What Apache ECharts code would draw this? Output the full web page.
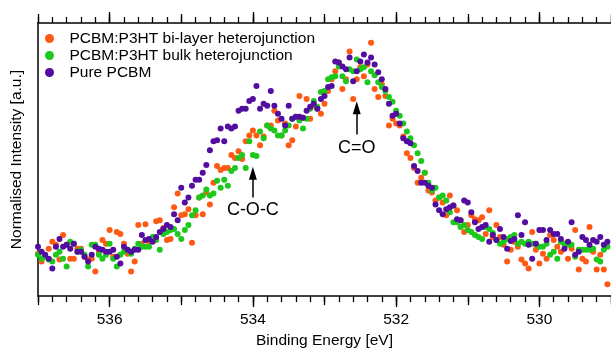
<!DOCTYPE html>
<html>
<head>
<meta charset="utf-8">
<script src="https://cdn.jsdelivr.net/npm/echarts@6/dist/echarts.min.js"></script>
<style>
  html, body { margin: 0; padding: 0; background: #fff; }
  #chart { width: 611px; height: 354px; }
</style>
</head>
<body>
<div id="chart"></div>
<script>
// binding energy grid (eV), sampled every 0.05 eV from 537 downwards
const energyStart = 537;
const energyStep = 0.05;

// normalised intensity, one value per energy step
const bilayer = [
  0.43,0.35,0.40,0.48,0.55,0.52,0.37,0.62,0.52,0.38,
  0.38,0.48,0.48,0.40,0.37,0.38,0.25,0.45,0.57,0.53,
  0.67,0.40,0.65,0.63,0.53,0.43,0.25,0.35,0.72,0.53,
  0.73,0.55,0.57,0.76,0.77,0.69,0.57,0.58,0.90,1.04,
  0.82,0.83,0.88,0.54,0.82,1.00,0.83,1.05,0.93,1.15,
  1.32,1.28,1.30,1.30,1.43,1.40,1.47,1.39,1.57,1.63,
  1.68,1.63,1.53,1.62,1.73,1.73,1.88,1.78,1.63,1.75,
  1.53,1.58,1.72,2.03,1.81,2.00,1.80,1.93,1.90,1.85,
  1.95,2.08,2.20,2.28,2.37,2.10,2.20,2.48,2.00,2.20,
  2.32,2.23,2.35,2.57,2.10,2.02,2.15,2.03,1.73,1.80,
  1.75,1.73,1.62,1.45,1.40,1.30,1.15,1.20,1.25,1.07,
  1.05,0.97,1.00,0.95,0.82,1.02,0.92,0.87,0.77,0.65,
  0.72,0.82,0.78,0.77,0.80,0.63,0.87,0.60,0.72,0.60,
  0.52,0.35,0.47,0.55,0.50,0.37,0.33,0.28,0.65,0.47,
  0.33,0.43,0.38,0.62,0.57,0.50,0.45,0.53,0.38,0.48,
  0.67,0.27,0.38,0.35,0.70,0.45,0.27,0.42,0.27,0.12
];
const bulk = [
  0.42,0.38,0.40,0.37,0.35,0.42,0.45,0.38,0.30,0.55,
  0.53,0.45,0.47,0.42,0.30,0.52,0.52,0.42,0.38,0.42,
  0.53,0.38,0.30,0.42,0.45,0.47,0.43,0.48,0.53,0.50,
  0.50,0.50,0.60,0.57,0.47,0.63,0.65,0.67,0.68,0.63,
  0.58,0.67,0.72,0.82,0.87,1.00,1.02,1.08,1.02,1.04,
  1.17,1.10,1.18,1.12,1.27,1.30,1.40,1.43,1.30,1.57,
  1.43,1.42,1.67,1.60,1.73,1.70,1.68,1.63,1.63,1.68,
  1.73,1.80,1.82,1.78,1.70,1.80,1.90,1.98,1.92,2.07,
  2.08,2.20,2.22,2.23,2.33,2.23,2.18,2.30,2.28,2.40,
  2.30,2.32,2.17,2.28,2.24,2.17,2.12,2.08,2.02,1.97,
  1.88,1.83,1.75,1.67,1.60,1.53,1.45,1.37,1.25,1.15,
  1.07,1.10,1.00,1.02,0.97,0.85,0.75,0.75,0.70,0.72,
  0.67,0.65,0.62,0.60,0.58,0.70,0.68,0.64,0.57,0.53,
  0.55,0.58,0.60,0.62,0.53,0.55,0.53,0.55,0.53,0.53,
  0.50,0.50,0.53,0.42,0.45,0.38,0.55,0.53,0.52,0.52,
  0.40,0.47,0.47,0.47,0.47,0.48,0.37,0.35,0.47,0.50
];
const purePCBM = [
  0.50,0.45,0.42,0.38,0.28,0.50,0.58,0.50,0.52,0.48,
  0.53,0.45,0.45,0.40,0.35,0.42,0.50,0.48,0.47,0.45,
  0.45,0.47,0.40,0.33,0.50,0.47,0.45,0.47,0.47,0.62,
  0.57,0.58,0.55,0.60,0.65,0.68,0.72,0.70,0.83,0.77,
  1.10,0.95,1.00,1.12,1.18,1.18,1.25,1.33,1.48,1.57,
  1.58,1.70,1.57,1.72,1.70,1.72,1.88,1.90,1.90,1.98,
  2.00,2.13,1.90,1.95,1.93,2.08,1.93,1.85,1.80,1.73,
  1.93,1.80,1.82,1.82,1.81,1.88,1.92,1.95,1.90,2.00,
  2.03,2.12,2.13,2.38,2.37,2.33,2.30,2.42,2.18,2.28,
  2.38,2.45,2.37,2.42,2.35,2.27,2.20,2.10,1.95,1.83,
  1.85,1.75,1.60,1.57,1.55,1.32,1.27,1.15,1.15,1.12,
  1.10,0.93,0.87,0.83,0.88,0.90,0.92,0.78,0.77,0.97,
  0.95,0.85,0.75,0.68,0.70,0.72,0.55,0.62,0.57,0.68,
  0.60,0.48,0.56,0.58,0.82,0.62,0.75,0.52,0.38,0.53,
  0.67,0.67,0.57,0.67,0.63,0.63,0.58,0.48,0.55,0.75,
  0.42,0.45,0.60,0.57,0.52,0.57,0.55,0.60,0.52,0.55
];

const seriesNames = [
  'PCBM:P3HT bi-layer heterojunction',
  'PCBM:P3HT bulk heterojunction',
  'Pure PCBM'
];
const majorTicks = [530, 532, 534, 536];

// peak labels: [energy, intensity of text, arrow bottom, arrow top]
const peakNames = ['C-O-C', 'C=O'];
const peakEnergy = [534.0, 532.55];
const peakTextY = [0.87, 1.50];
const peakArrowFrom = [1.00, 1.64];
const peakArrowTo = [1.245, 1.91];

const chart = echarts.init(document.getElementById('chart'), null, { renderer: 'canvas' });

const energies = bilayer.map((_, i) => +(energyStart - i * energyStep).toFixed(2));
const toPoints = vals => vals.map((v, i) => [energies[i], v]);

const FONT = '"Liberation Sans", Arial, sans-serif';
const black = '#000';

const tickAxis = (position, opts) => Object.assign({
    type: 'value',
    position: position,
    min: 529,
    max: 537,
    inverse: true,
    axisLine: { show: false },
    axisLabel: { show: false },
    splitLine: { show: false },
    axisTick: { show: true, inside: false, lineStyle: { color: black, width: 1.3 } }
}, opts);

const dotSeries = (idx, vals, color) => ({
    name: seriesNames[idx],
    type: 'scatter',
    symbolSize: 6,
    itemStyle: { color: color, opacity: 1 },
    emphasis: { disabled: true },
    data: toPoints(vals)
});

const purple = dotSeries(2, purePCBM, '#520ca0');
purple.markLine = {
    silent: true,
    symbol: ['none', 'triangle'],
    symbolSize: [8, 13],
    label: { show: false },
    itemStyle: { color: black },
    lineStyle: { color: black, width: 1.5, type: 'solid', opacity: 1 },
    emphasis: { disabled: true },
    data: peakEnergy.map((e, i) => [
        { coord: [e, peakArrowFrom[i]] },
        { coord: [e, peakArrowTo[i]] }
    ])
};
purple.markPoint = {
    silent: true,
    symbol: 'circle',
    symbolSize: 0,
    label: {
        show: true,
        position: 'inside',
        formatter: '{b}',
        color: black,
        fontSize: 18,
        fontFamily: FONT
    },
    data: peakEnergy.map((e, i) => ({ name: peakNames[i], coord: [e, peakTextY[i]] }))
};

const option = {
    animation: false,
    backgroundColor: '#fff',
    textStyle: { fontFamily: FONT },
    grid: { left: 38, right: 0, top: 23, bottom: 54, containLabel: false },
    legend: {
        orient: 'vertical',
        left: 45,
        top: 30,
        padding: 0,
        itemGap: 0,
        itemWidth: 30,
        itemHeight: 9,
        icon: 'circle',
        data: seriesNames,
        itemStyle: { opacity: 1 },
        textStyle: { fontFamily: FONT, fontSize: 15.5, color: black, lineHeight: 17 }
    },
    xAxis: [
        tickAxis('bottom', {
            axisLine: { show: true, onZero: false, lineStyle: { color: black, width: 1.5 } },
            axisTick: { show: true, length: 11, customValues: majorTicks, lineStyle: { color: black, width: 1.3 } },
            axisLabel: { show: true, customValues: majorTicks, color: black, fontSize: 15.5, fontFamily: FONT, margin: 16 },
            name: 'Binding Energy [eV]',
            nameLocation: 'middle',
            nameGap: 36,
            nameTextStyle: { color: black, fontSize: 15.5, fontFamily: FONT }
        }),
        tickAxis('bottom', { interval: 1, axisTick: { show: true, length: 9, lineStyle: { color: black, width: 1.3 } } }),
        tickAxis('bottom', { interval: 0.2, axisTick: { show: true, length: 6, lineStyle: { color: black, width: 1.3 } } }),
        tickAxis('top', {
            axisLine: { show: true, onZero: false, lineStyle: { color: black, width: 1.5 } },
            axisTick: { show: true, length: 11, customValues: majorTicks, lineStyle: { color: black, width: 1.3 } }
        }),
        tickAxis('top', { interval: 1, axisTick: { show: true, length: 9, lineStyle: { color: black, width: 1.3 } } }),
        tickAxis('top', { interval: 0.2, axisTick: { show: true, length: 6, lineStyle: { color: black, width: 1.3 } } })
    ],
    yAxis: {
        type: 'value',
        min: 0,
        max: 2.77,
        axisLine: { show: true, onZero: false, lineStyle: { color: black, width: 1.5 } },
        axisTick: { show: false },
        axisLabel: { show: false },
        splitLine: { show: false },
        name: 'Normalised Intensity [a.u.]',
        nameLocation: 'middle',
        nameGap: 13,
        nameTextStyle: { color: black, fontSize: 15.5, fontFamily: FONT }
    },
    series: [
        dotSeries(0, bilayer, '#ff5a14'),
        dotSeries(1, bulk, '#1cc81c'),
        purple
    ]
};

chart.setOption(option);
</script>
</body>
</html>
